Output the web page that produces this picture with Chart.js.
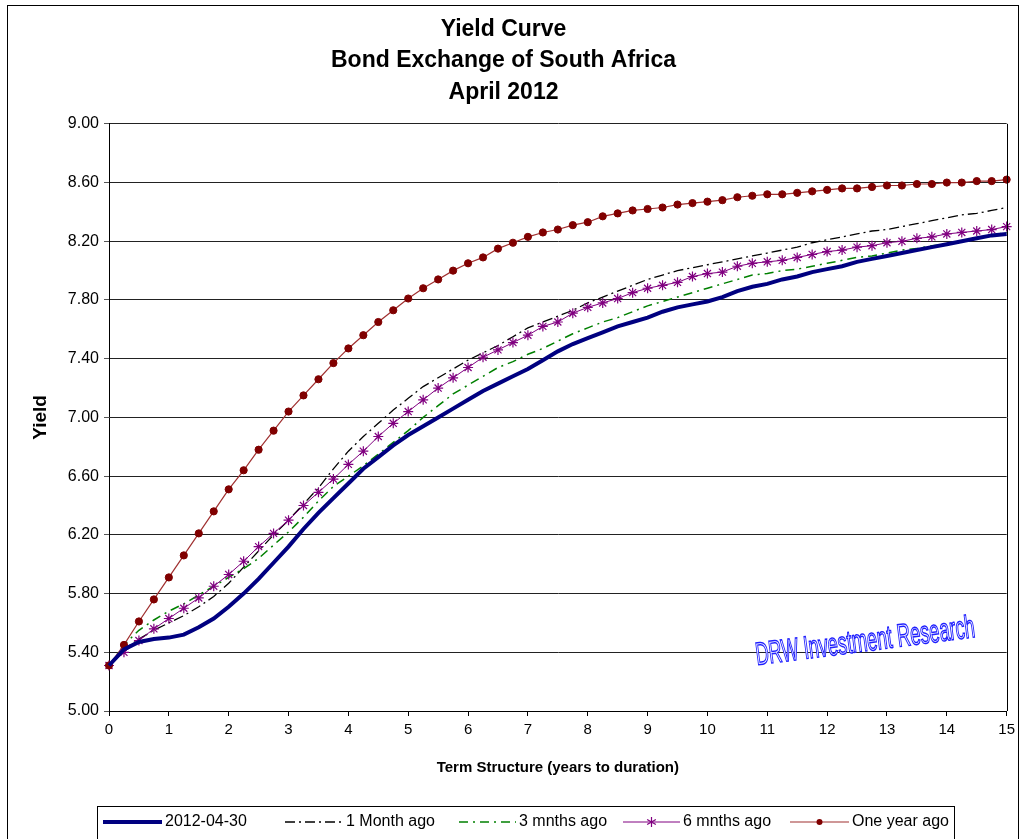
<!DOCTYPE html>
<html>
<head>
<meta charset="utf-8">
<script src="https://cdn.jsdelivr.net/npm/chart.js@4.4.1/dist/chart.umd.min.js"></script>
<style>
  html, body { margin: 0; padding: 0; background: #fff; }
  #wrap { width: 1020px; height: 839px; }
</style>
</head>
<body>
<div id="wrap"><canvas id="yieldChart" width="1020" height="839"></canvas></div>
<script>
const terms = [
  0, 0.25, 0.5, 0.75, 1, 1.25, 1.5, 1.75, 2, 2.25, 2.5, 2.75, 3, 3.25, 3.5, 3.75,
  4, 4.25, 4.5, 4.75, 5, 5.25, 5.5, 5.75, 6, 6.25, 6.5, 6.75, 7, 7.25, 7.5, 7.75,
  8, 8.25, 8.5, 8.75, 9, 9.25, 9.5, 9.75, 10, 10.25, 10.5, 10.75, 11, 11.25, 11.5, 11.75,
  12, 12.25, 12.5, 12.75, 13, 13.25, 13.5, 13.75, 14, 14.25, 14.5, 14.75, 15,
];

const current = [
  5.31, 5.42, 5.47, 5.49, 5.50, 5.52, 5.57, 5.63, 5.71, 5.80, 5.90, 6.01, 6.12, 6.24, 6.35, 6.45,
  6.55, 6.65, 6.73, 6.81, 6.88, 6.94, 7.00, 7.06, 7.12, 7.18, 7.23, 7.28, 7.33, 7.39, 7.45, 7.50,
  7.54, 7.58, 7.62, 7.65, 7.68, 7.72, 7.75, 7.77, 7.79, 7.82, 7.86, 7.89, 7.91, 7.94, 7.96, 7.99,
  8.01, 8.03, 8.06, 8.08, 8.10, 8.12, 8.14, 8.16, 8.18, 8.20, 8.22, 8.24, 8.25,
];

const oneMonth = [
  5.31, 5.42, 5.49, 5.55, 5.60, 5.65, 5.71, 5.78, 5.87, 5.98, 6.09, 6.20, 6.30, 6.41, 6.52, 6.65,
  6.77, 6.87, 6.96, 7.05, 7.13, 7.21, 7.27, 7.33, 7.39, 7.44, 7.49, 7.55, 7.61, 7.65, 7.69, 7.73,
  7.78, 7.82, 7.86, 7.90, 7.94, 7.97, 8.00, 8.02, 8.04, 8.06, 8.08, 8.10, 8.12, 8.14, 8.16, 8.19,
  8.21, 8.23, 8.25, 8.27, 8.28, 8.30, 8.32, 8.34, 8.36, 8.38, 8.39, 8.41, 8.43,
];

const threeMonths = [
  5.31, 5.45, 5.55, 5.62, 5.68, 5.73, 5.79, 5.85, 5.91, 5.97, 6.04, 6.13, 6.22, 6.32, 6.43, 6.53,
  6.60, 6.67, 6.75, 6.83, 6.91, 7.00, 7.08, 7.16, 7.22, 7.28, 7.34, 7.38, 7.43, 7.47, 7.52, 7.57,
  7.61, 7.65, 7.68, 7.72, 7.76, 7.79, 7.82, 7.85, 7.88, 7.91, 7.94, 7.97, 7.98, 8.00, 8.01, 8.03,
  8.05, 8.07, 8.09, 8.10, 8.12, 8.14, 8.15, 8.17, 8.18, 8.20, 8.22, 8.24, 8.26,
];

const sixMonths = [
  5.31, 5.40, 5.48, 5.56, 5.63, 5.70, 5.77, 5.85, 5.93, 6.02, 6.12, 6.21, 6.30, 6.40, 6.49, 6.58,
  6.68, 6.77, 6.87, 6.96, 7.04, 7.12, 7.20, 7.27, 7.34, 7.41, 7.46, 7.51, 7.56, 7.62, 7.65, 7.71,
  7.75, 7.78, 7.81, 7.85, 7.88, 7.90, 7.92, 7.96, 7.98, 7.99, 8.03, 8.05, 8.06, 8.07, 8.09, 8.11,
  8.13, 8.14, 8.16, 8.17, 8.19, 8.20, 8.22, 8.23, 8.25, 8.26, 8.27, 8.28, 8.30,
];

const oneYear = [
  5.31, 5.45, 5.61, 5.76, 5.91, 6.06, 6.21, 6.36, 6.51, 6.64, 6.78, 6.91, 7.04, 7.15, 7.26, 7.37,
  7.47, 7.56, 7.65, 7.73, 7.81, 7.88, 7.94, 8.00, 8.05, 8.09, 8.15, 8.19, 8.23, 8.26, 8.28, 8.31,
  8.33, 8.37, 8.39, 8.41, 8.42, 8.43, 8.45, 8.46, 8.47, 8.48, 8.50, 8.51, 8.52, 8.52, 8.53, 8.54,
  8.55, 8.56, 8.56, 8.57, 8.58, 8.58, 8.59, 8.59, 8.60, 8.60, 8.61, 8.61, 8.62,
];

const seriesNames = ['2012-04-30', '1 Month ago', '3 mnths ago', '6 mnths ago', 'One year ago'];
const yTicks = [5.0, 5.4, 5.8, 6.2, 6.6, 7.0, 7.4, 7.8, 8.2, 8.6, 9.0];
const xTicks = [0, 1, 2, 3, 4, 5, 6, 7, 8, 9, 10, 11, 12, 13, 14, 15];

const FONT = 'Liberation Sans, Arial, sans-serif';

const seriesStyles = [
  { color: '#000080', width: 4, dash: [], point: false },
  { color: '#000000', width: 1.3, dash: [10, 4, 2, 4], point: false },
  { color: '#008000', width: 1.5, dash: [9, 5, 2, 5], point: false },
  { color: '#800080', width: 1, dash: [], point: 'star', radius: 5, pointColor: '#800080' },
  { color: '#a03030', width: 1.2, dash: [], point: 'circle', radius: 3.6, pointColor: '#800000' },
];

function toPoints(values) {
  return values.map((v, i) => ({ x: terms[i], y: v }));
}

const seriesValues = [current, oneMonth, threeMonths, sixMonths, oneYear];

// draw back to front so that the current curve sits on top
const datasets = seriesValues.map((values, i) => {
  const s = seriesStyles[i];
  return {
    label: seriesNames[i],
    data: toPoints(values),
    borderColor: s.color,
    backgroundColor: s.pointColor || s.color,
    borderWidth: s.width,
    borderDash: s.dash,
    tension: 0,
    clip: false,
    order: i === 0 ? 0 : 5 - i,
    pointStyle: s.point || 'circle',
    pointRadius: s.point ? s.radius : 0,
    pointBorderColor: s.pointColor || s.color,
    pointBackgroundColor: s.pointColor || s.color,
    pointBorderWidth: s.point === 'star' ? 1.2 : 1,
    pointHoverRadius: s.point ? s.radius : 0,
  };
});

const framePlugin = {
  id: 'frame',
  beforeDraw(chart) {
    const ctx = chart.ctx;
    ctx.save();
    ctx.fillStyle = '#fff';
    ctx.fillRect(0, 0, chart.width, chart.height);
    ctx.restore();
  },
  afterDraw(chart) {
    const ctx = chart.ctx;
    const area = chart.chartArea;
    ctx.save();
    // outer frame of the chart
    ctx.strokeStyle = '#000';
    ctx.lineWidth = 1;
    ctx.strokeRect(7.5, 5.5, 1011, 840);
    // right edge of the plot
    ctx.beginPath();
    ctx.moveTo(Math.round(area.right) + 0.5, area.top);
    ctx.lineTo(Math.round(area.right) + 0.5, area.bottom);
    ctx.stroke();

    // watermark
    ctx.save();
    ctx.translate(757, 665);
    ctx.rotate(-0.128);
    ctx.scale(0.57, 1);
    ctx.font = '32px ' + FONT;
    ctx.fillStyle = '#ffffff';
    ctx.fillText('DRW Investment Research', 0, 0);
    ctx.strokeStyle = '#1f1fff';
    ctx.lineWidth = 1.5;
    ctx.strokeText('DRW Investment Research', 0, 0);
    ctx.restore();

    // legend box
    ctx.strokeStyle = '#000';
    ctx.lineWidth = 1;
    ctx.strokeRect(97.5, 806.5, 857, 40);
    const items = [
      { x: 103, text: 165 },
      { x: 285, text: 346 },
      { x: 459, text: 519 },
      { x: 623, text: 683 },
      { x: 790, text: 852 },
    ];
    const ly = 822;
    ctx.font = '16px ' + FONT;
    ctx.textBaseline = 'middle';
    items.forEach((it, i) => {
      const s = seriesStyles[i];
      ctx.save();
      ctx.strokeStyle = s.color;
      ctx.lineWidth = s.width;
      ctx.setLineDash(s.dash);
      ctx.beginPath();
      ctx.moveTo(it.x, ly);
      ctx.lineTo(it.text - 3, ly);
      ctx.stroke();
      ctx.restore();
      if (s.point) {
        const cx = (it.x + it.text - 3) / 2;
        ctx.save();
        ctx.fillStyle = s.pointColor;
        ctx.strokeStyle = s.pointColor;
        ctx.lineWidth = 1.2;
        ctx.beginPath();
        if (s.point === 'circle') {
          ctx.arc(cx, ly, 3, 0, Math.PI * 2);
          ctx.fill();
        } else {
          const r = 5;
          ctx.moveTo(cx, ly - r); ctx.lineTo(cx, ly + r);
          ctx.moveTo(cx - r * 0.87, ly - r / 2); ctx.lineTo(cx + r * 0.87, ly + r / 2);
          ctx.moveTo(cx - r * 0.87, ly + r / 2); ctx.lineTo(cx + r * 0.87, ly - r / 2);
          ctx.stroke();
        }
        ctx.restore();
      }
      ctx.fillStyle = '#000';
      ctx.fillText(seriesNames[i], it.text, ly);
    });
    ctx.restore();
  },
};

const ctx = document.getElementById('yieldChart').getContext('2d');
new Chart(ctx, {
  type: 'line',
  data: { datasets: datasets },
  plugins: [framePlugin],
  options: {
    responsive: false,
    animation: false,
    devicePixelRatio: 1,
    layout: { padding: { left: 0, right: 13, top: 0, bottom: 60 } },
    scales: {
      x: {
        type: 'linear',
        min: 0,
        max: 15,
        afterFit: (s) => { s.height = 68; },
        afterBuildTicks: (s) => { s.ticks = xTicks.map(v => ({ value: v })); },
        ticks: {
          color: '#000',
          font: { family: FONT, size: 15 },
          padding: 5,
          maxRotation: 0,
        },
        grid: { drawOnChartArea: false, drawTicks: true, tickLength: 5, color: '#000' },
        border: { color: '#000', width: 1 },
        title: {
          display: true,
          text: 'Term Structure (years to duration)',
          color: '#000',
          font: { family: FONT, size: 15, weight: 'bold' },
          padding: { top: 0, bottom: 2 },
        },
      },
      y: {
        min: 5,
        max: 9,
        afterFit: (s) => { s.width = 109; },
        afterBuildTicks: (s) => { s.ticks = yTicks.map(v => ({ value: v })); },
        ticks: {
          color: '#000',
          font: { family: FONT, size: 16 },
          padding: 5,
          callback: (v) => Number(v).toFixed(2),
        },
        grid: { color: '#222', lineWidth: 1, tickLength: 5, tickColor: '#555' },
        border: { color: '#000', width: 1 },
        title: {
          display: true,
          text: 'Yield',
          color: '#000',
          font: { family: FONT, size: 19, weight: 'bold' },
          padding: { top: 29, bottom: 0 },
        },
      },
    },
    plugins: {
      legend: { display: false },
      tooltip: { enabled: false },
      title: {
        display: true,
        text: ['Yield Curve', 'Bond Exchange of South Africa', 'April 2012'],
        color: '#000',
        font: { family: FONT, size: 23, weight: 'bold', lineHeight: 1.36 },
        padding: { top: 14, bottom: 16 },
      },
    },
  },
});
</script>
</body>
</html>
